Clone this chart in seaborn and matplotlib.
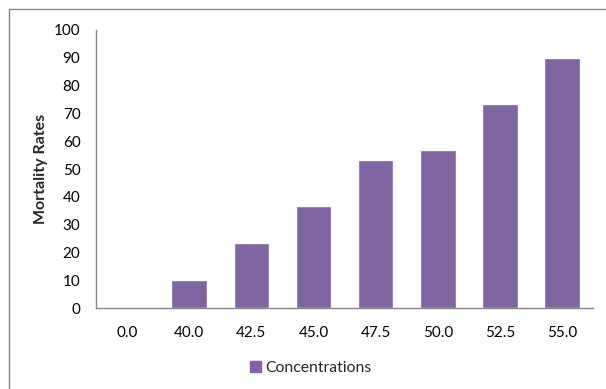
import matplotlib
matplotlib.use("Agg")
import matplotlib.pyplot as plt
import seaborn as sns
import pandas as pd
from matplotlib.patches import Rectangle

# data
concentrations = ["0.0", "40.0", "42.5", "45.0", "47.5", "50.0", "52.5", "55.0"]
mortality = [0, 10, 23.3, 36.7, 53.3, 56.7, 73.3, 90]
series_name = "Concentrations"

df = pd.DataFrame({"conc": concentrations, "rate": mortality, "series": series_name})

sns.set_theme(style="white")
plt.rcParams["font.family"] = ["Lato", "DejaVu Sans"]

fig = plt.figure(figsize=(6.06, 3.89), dpi=100)
ax = fig.add_axes([0.158, 0.208, 0.821, 0.715])

sns.barplot(data=df, x="conc", y="rate", hue="series", palette=["#8064A2"],
            width=0.57, saturation=1, ax=ax, legend=False)

ax.set_ylim(0, 100)
ax.set_yticks(range(0, 101, 10))
ax.set_xlim(-0.5, len(concentrations) - 0.5)
ax.tick_params(axis="both", length=0, labelsize=11, colors="black")
ax.tick_params(axis="x", pad=13)
ax.tick_params(axis="y", pad=11)
ax.set_xlabel("")
ax.set_ylabel("Mortality Rates", fontsize=11.5, fontweight="bold", labelpad=4)

for side in ["top", "right"]:
    ax.spines[side].set_visible(False)
for side in ["left", "bottom"]:
    ax.spines[side].set_color("#868686")
    ax.spines[side].set_linewidth(1)

# legend at the bottom, square marker like Excel
handle = Rectangle((0, 0), 1, 1, color="#8064A2")
fig.legend([handle], [series_name], loc="center", bbox_to_anchor=(0.513, 0.053),
           frameon=False, fontsize=11.3, handlelength=0.7, handleheight=0.7,
           handletextpad=0.3)

# outer chart border
fig.patches.append(Rectangle((9 / 606, -0.01), 1.0, 1 - 9 / 389 + 0.01,
                             transform=fig.transFigure, fill=False,
                             edgecolor="#868686", linewidth=1))

fig.savefig("out.png", dpi=100)
